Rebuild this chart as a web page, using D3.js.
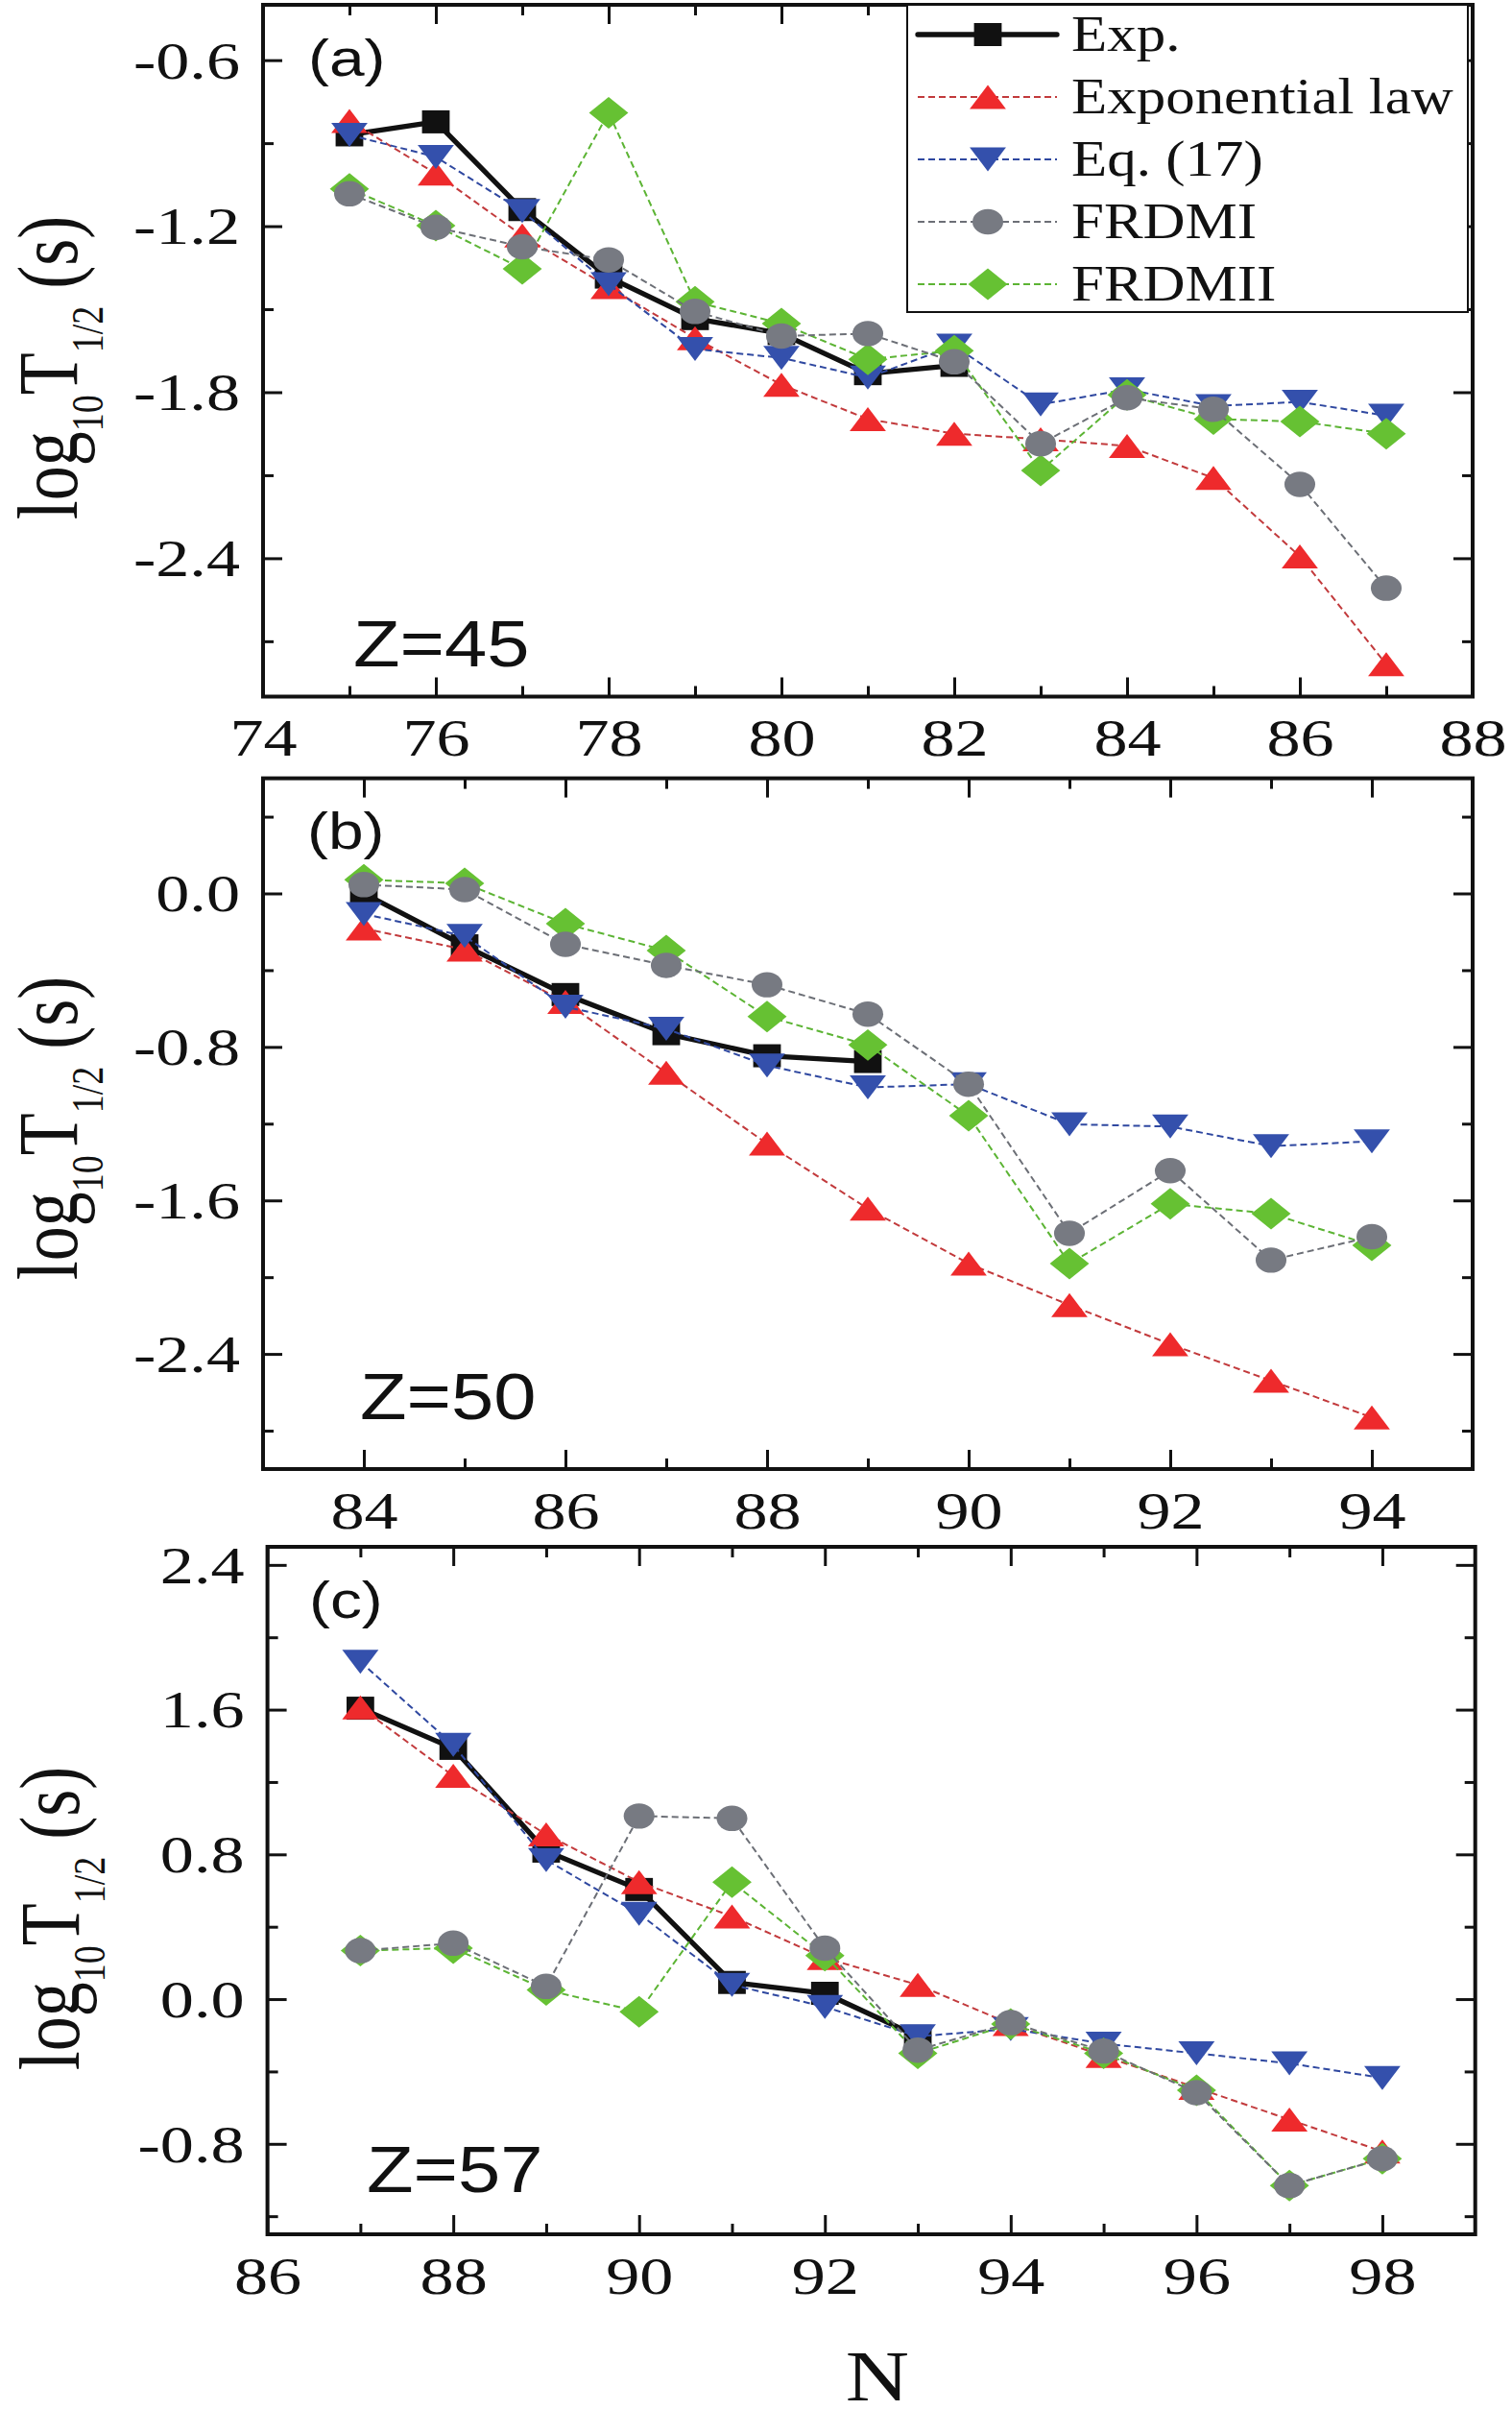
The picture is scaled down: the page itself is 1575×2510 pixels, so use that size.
<!DOCTYPE html>
<html>
<head>
<meta charset="utf-8">
<script src="https://cdn.jsdelivr.net/npm/d3@7"></script>
<style>
  body { margin: 0; background: #fff; }
  svg { display: block; }
</style>
</head>
<body>
<div id="chart"></div>
<script>
// ---- data ----
// panel (a) Z=45
var nA = [75, 76, 77, 78, 79, 80, 81, 82, 83, 84, 85, 86, 87];
var expA = [-0.87, -0.823, -1.14, -1.384, -1.534, -1.588, -1.733, -1.703];
var lawA = [-0.82, -1.01, -1.234, -1.42, -1.605, -1.773, -1.897, -1.95, -1.97, -1.994, -2.11, -2.393, -2.783];
var eqA = [-0.87, -0.95, -1.145, -1.41, -1.644, -1.676, -1.747, -1.632, -1.844, -1.79, -1.85, -1.835, -1.885];
var frdm1A = [-1.083, -1.204, -1.274, -1.322, -1.508, -1.597, -1.588, -1.69, -1.986, -1.82, -1.862, -2.133, -2.508];
var frdm2A = [-1.065, -1.198, -1.354, -0.79, -1.473, -1.552, -1.681, -1.65, -2.083, -1.81, -1.897, -1.906, -1.95];

// panel (b) Z=50
var nB = [84, 85, 86, 87, 88, 89, 90, 91, 92, 93, 94];
var expB = [0.0, -0.273, -0.527, -0.731, -0.846, -0.876];
var lawB = [-0.183, -0.293, -0.566, -0.935, -1.304, -1.643, -1.929, -2.145, -2.349, -2.54, -2.731];
var eqB = [-0.107, -0.222, -0.591, -0.706, -0.897, -1.011, -0.994, -1.203, -1.215, -1.317, -1.292];
var frdm1B = [0.046, 0.02, -0.265, -0.375, -0.476, -0.629, -0.994, -1.771, -1.445, -1.911, -1.789];
var frdm2B = [0.071, 0.053, -0.158, -0.298, -0.642, -0.79, -1.159, -1.929, -1.618, -1.669, -1.834];

// panel (c) Z=57
var nC = [87, 88, 89, 90, 91, 92, 93, 94, 95, 96, 97, 98];
var expC = [1.608, 1.386, 0.818, 0.606, 0.092, 0.032, -0.206];
var lawC = [1.613, 1.234, 0.91, 0.647, 0.457, 0.227, 0.079, -0.138, -0.314, -0.49, -0.666, -0.842];
var eqC = [1.865, 1.405, 0.769, 0.471, 0.079, -0.043, -0.206, -0.165, -0.246, -0.30, -0.355, -0.436];
var frdm1C = [0.268, 0.309, 0.07, 1.012, 0.999, 0.282, -0.282, -0.13, -0.287, -0.517, -1.031, -0.882];
var frdm2C = [0.268, 0.282, 0.051, -0.07, 0.647, 0.241, -0.30, -0.138, -0.30, -0.504, -1.031, -0.882];

// tick values
var xMajorA = [74, 76, 78, 80, 82, 84, 86, 88], xMinorA = [75, 77, 79, 81, 83, 85, 87];
var yMajorA = [-0.6, -1.2, -1.8, -2.4], yMinorA = [-0.9, -1.5, -2.1, -2.7];
var xMajorB = [84, 86, 88, 90, 92, 94], xMinorB = [85, 87, 89, 91, 93];
var yMajorB = [0.0, -0.8, -1.6, -2.4], yMinorB = [0.4, -0.4, -1.2, -2.0, -2.8];
var xMajorC = [86, 88, 90, 92, 94, 96, 98], xMinorC = [87, 89, 91, 93, 95, 97];
var yMajorC = [2.4, 1.6, 0.8, 0.0, -0.8], yMinorC = [2.0, 1.2, 0.4, -0.4, -1.2];

var legendNames = ["Exp.", "Exponential law", "Eq. (17)", "FRDMI", "FRDMII"];

// ---- styles ----
var serif = "'Liberation Serif', 'Times New Roman', serif";
var sans = "'Liberation Sans', Arial, sans-serif";
var styles = [
  {marker: "square",  fill: "#111111", stroke: "#111111", width: 5.3, dash: null},
  {marker: "up",      fill: "#ee2a2c", stroke: "#c23a3c", width: 2, dash: "7,4"},
  {marker: "down",    fill: "#3450ac", stroke: "#2f48a0", width: 2, dash: "7,4"},
  {marker: "circle",  fill: "#777a82", stroke: "#6c6f76", width: 2, dash: "7,4"},
  {marker: "diamond", fill: "#66c133", stroke: "#5cb434", width: 2, dash: "7,4"}
];
var shapes = {
  square:  {type: d3.symbolSquare, size: 576, tf: "scale(1.2,1)"},
  up:      {type: d3.symbolTriangle, size: 361, tf: "translate(0,4.17) scale(1.31,1)"},
  down:    {type: d3.symbolTriangle, size: 361, tf: "translate(0,-4.17) scale(1.31,-1)"},
  circle:  {type: d3.symbolCircle, size: 551, tf: "scale(1.21,1)"},
  diamond: {type: d3.symbolSquare, size: 544, tf: "scale(1.24,1) rotate(45)"}
};
// draw order follows the original: Exp, law, Eq17, FRDMII, FRDMI
var drawOrder = [0, 1, 2, 4, 3];

var fmtY = function(v){ return d3.format(".1f")(v).replace("\u2212", "-"); };
var fmtX = d3.format("d");

var W = 1575, H = 2510;
var svg = d3.select("#chart").append("svg")
  .attr("width", W).attr("height", H)
  .style("background", "#fff");

var panels = [
  {l: 274, r: 1534, t: 5, b: 725.5, xd: [74, 88], yd: [-2.9, -0.4],
   xMaj: xMajorA, xMin: xMinorA, yMaj: yMajorA, yMin: yMinorA,
   n: nA, series: [expA, lawA, eqA, frdm1A, frdm2A],
   tag: "(a)", tagX: 321, tagY: 79, z: "Z=45", zX: 368, zY: 694, titleX: 80, titleY: 383, legend: true},
  {l: 274, r: 1534, t: 810.6, b: 1530, xd: [83, 95], yd: [-3.0, 0.6],
   xMaj: xMajorB, xMin: xMinorB, yMaj: yMajorB, yMin: yMinorB,
   n: nB, series: [expB, lawB, eqB, frdm1B, frdm2B],
   tag: "(b)", tagX: 320, tagY: 884, z: "Z=50", zX: 375, zY: 1478, titleX: 80, titleY: 1175},
  {l: 278.6, r: 1536.7, t: 1611, b: 2327, xd: [86, 99], yd: [-1.3, 2.5],
   xMaj: xMajorC, xMin: xMinorC, yMaj: yMajorC, yMin: yMinorC,
   n: nC, series: [expC, lawC, eqC, frdm1C, frdm2C],
   tag: "(c)", tagX: 322, tagY: 1685, z: "Z=57", zX: 382, zY: 2283, titleX: 82, titleY: 1998}
];

function drawMarker(g, shapeName, color, x, y){
  var s = shapes[shapeName];
  g.append("path")
    .attr("d", d3.symbol().type(s.type).size(s.size)())
    .attr("transform", "translate(" + x + "," + y + ") " + s.tf)
    .attr("fill", color);
}

panels.forEach(function(p){
  var x = d3.scaleLinear().domain(p.xd).range([p.l, p.r]);
  var y = d3.scaleLinear().domain(p.yd).range([p.b, p.t]);
  var g = svg.append("g");

  // ticks, inward on all four sides
  function ticks(axis, tx, ty, vals, len, labelFmt){
    var a = g.append("g")
      .attr("transform", "translate(" + tx + "," + ty + ")")
      .call(axis.tickValues(vals).tickSize(-len).tickFormat(labelFmt || ""));
    a.select(".domain").remove();
    a.selectAll("line").attr("stroke", "#111").attr("stroke-width", 3);
    return a;
  }
  var bx = ticks(d3.axisBottom(x), 0, p.b, p.xMaj, 20, fmtX);
  ticks(d3.axisBottom(x), 0, p.b, p.xMin, 11);
  ticks(d3.axisTop(x), 0, p.t, p.xMaj, 20);
  ticks(d3.axisTop(x), 0, p.t, p.xMin, 11);
  var ly = ticks(d3.axisLeft(y), p.l, 0, p.yMaj, 20, fmtY);
  ticks(d3.axisLeft(y), p.l, 0, p.yMin, 11);
  ticks(d3.axisRight(y), p.r, 0, p.yMaj, 20);
  ticks(d3.axisRight(y), p.r, 0, p.yMin, 11);

  bx.selectAll("text")
    .attr("y", 62).attr("dy", 0)
    .attr("transform", "scale(1.3,1)")
    .attr("font-family", serif).attr("font-size", 54).attr("fill", "#111");
  ly.selectAll("text")
    .attr("x", -24 / 1.3).attr("dy", "0.34em")
    .attr("transform", "scale(1.3,1)")
    .attr("font-family", serif).attr("font-size", 54).attr("fill", "#111");

  // series
  var line = d3.line().x(function(d){ return x(d[0]); }).y(function(d){ return y(d[1]); });
  drawOrder.forEach(function(k){
    var st = styles[k];
    var pts = p.series[k].map(function(v, i){ return [p.n[i], v]; });
    g.append("path")
      .datum(pts)
      .attr("d", line)
      .attr("fill", "none")
      .attr("stroke", st.stroke)
      .attr("stroke-width", st.width)
      .attr("stroke-linejoin", "round")
      .attr("stroke-dasharray", st.dash);
    pts.forEach(function(d){ drawMarker(g, st.marker, st.fill, x(d[0]), y(d[1])); });
  });

  // frame
  g.append("rect")
    .attr("x", p.l).attr("y", p.t)
    .attr("width", p.r - p.l).attr("height", p.b - p.t)
    .attr("fill", "none").attr("stroke", "#111").attr("stroke-width", 4);

  // panel tag and Z label
  g.append("text")
    .attr("transform", "translate(" + p.tagX + "," + p.tagY + ") scale(1.22,1)")
    .attr("font-family", sans).attr("font-size", 54).attr("fill", "#111")
    .text(p.tag);
  g.append("text")
    .attr("transform", "translate(" + p.zX + "," + p.zY + ") scale(1.17,1)")
    .attr("font-family", sans).attr("font-size", 68).attr("fill", "#111")
    .text(p.z);

  // y title
  var t = g.append("text")
    .attr("transform", "translate(" + p.titleX + "," + p.titleY + ") scale(1.22,1) rotate(-90)")
    .attr("text-anchor", "middle")
    .attr("font-family", serif).attr("font-size", 72).attr("fill", "#111");
  t.append("tspan").text("log");
  t.append("tspan").attr("font-size", 38).attr("dy", 22).text("10");
  t.append("tspan").attr("dy", -22).text("T");
  t.append("tspan").attr("font-size", 38).attr("dy", 22).text("1/2");
  t.append("tspan").attr("dy", -22).text(" (s)");

  // legend
  if (p.legend) {
    var lg = g.append("g");
    lg.append("rect")
      .attr("x", 945).attr("y", p.t).attr("width", 584).attr("height", 320)
      .attr("fill", "#fff").attr("stroke", "#111").attr("stroke-width", 2);
    var rowY = d3.scaleLinear().domain([0, 4]).range([36, 296]);
    legendNames.forEach(function(name, k){
      var st = styles[k];
      var cy = rowY(k);
      lg.append("line")
        .attr("x1", 956).attr("x2", 1101).attr("y1", cy).attr("y2", cy)
        .attr("stroke", st.stroke).attr("stroke-width", st.width)
        .attr("stroke-linecap", st.dash ? "butt" : "round")
        .attr("stroke-dasharray", st.dash);
      drawMarker(lg, st.marker, st.fill, 1029, cy);
      lg.append("text")
        .attr("transform", "translate(1116," + (cy + 17) + ") scale(1.15,1)")
        .attr("font-family", serif).attr("font-size", 53).attr("fill", "#111")
        .text(name);
    });
  }
});

// x title
svg.append("text")
  .attr("transform", "translate(914,2500) scale(1.24,1)")
  .attr("text-anchor", "middle")
  .attr("font-family", serif).attr("font-size", 74).attr("fill", "#111")
  .text("N");
</script>
</body>
</html>
